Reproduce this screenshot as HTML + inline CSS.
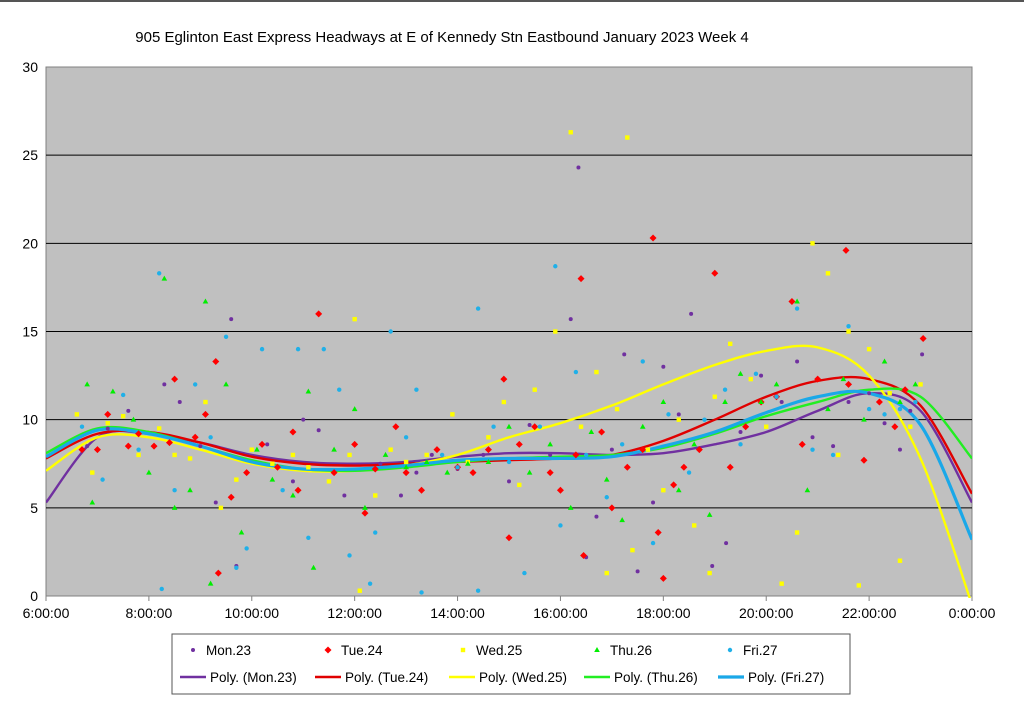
<!DOCTYPE html>
<html><head><meta charset="utf-8"><style>
html,body{margin:0;padding:0;background:#fff;}
svg{display:block;font-family:"Liberation Sans",Arial,sans-serif;}
</style></head><body>
<svg id="chart" width="1024" height="704" viewBox="0 0 1024 704" xmlns="http://www.w3.org/2000/svg">
<rect x="0" y="0" width="1024" height="704" fill="#fff"/>
<line x1="0" y1="1" x2="1024" y2="1" stroke="#555" stroke-width="2"/>
<text x="442" y="42" text-anchor="middle" font-size="15" fill="#000">905 Eglinton East Express Headways at E of Kennedy Stn Eastbound January 2023  Week 4</text>
<rect x="46" y="67" width="926" height="529" fill="#c0c0c0" stroke="#808080"/>
<g id="grid"></g>
<g id="axes"></g>
<g id="curves"></g>
<g id="points"></g>
<rect x="172" y="634" width="678" height="60" fill="#fff" stroke="#555"/>
<g id="legend"></g>
</svg>
<script>
const xTickLabels=["6:00:00","8:00:00","10:00:00","12:00:00","14:00:00","16:00:00","18:00:00","20:00:00","22:00:00","0:00:00"];
const yTicks=[0,5,10,15,20,25,30];
const seriesNames=["Mon.23","Tue.24","Wed.25","Thu.26","Fri.27"];
const curveHours=[6,7,8,9,10,11,12,13,14,15,16,17,18,19,20,21,22,23,24];
const curveMon=[5.3,9.0,9.2,8.7,8.0,7.6,7.5,7.6,7.9,8.1,8.1,8.0,8.1,8.6,9.3,10.5,11.5,10.5,5.3];
const curveTue=[7.8,9.2,9.3,8.7,7.9,7.5,7.4,7.5,7.6,7.7,7.8,8.0,8.8,10.0,11.3,12.2,12.3,10.8,5.8];
const curveWed=[7.1,9.0,9.0,8.3,7.5,7.1,7.1,7.4,8.0,9.0,9.8,10.8,12.0,13.1,13.9,14.1,12.5,7.8,-0.5];
const curveThu=[8.1,9.5,9.3,8.5,7.7,7.2,7.1,7.3,7.6,7.8,7.9,8.0,8.4,9.2,10.2,11.0,11.7,11.3,7.8];
const curveFri=[7.9,9.4,9.2,8.5,7.6,7.2,7.2,7.4,7.7,7.8,7.8,7.9,8.5,9.3,10.4,11.3,11.5,9.7,3.2];
const ptsMon=[[6.8,8.5],[7.2,9.5],[7.6,10.5],[8.3,12],[8.6,11],[9.0,8.5],[9.3,5.3],[9.6,5.6],[9.6,15.7],[9.7,1.7],[10.3,8.6],[10.8,6.5],[11.0,10],[11.3,9.4],[11.8,5.7],[12.5,7.5],[12.9,5.7],[13.2,7],[13.5,8],[14.0,7.2],[14.5,8],[15.0,6.5],[15.4,9.7],[15.8,8],[16.2,15.7],[16.35,24.3],[16.5,2.2],[16.7,4.5],[17.0,8.3],[17.24,13.7],[17.5,1.4],[17.8,5.3],[18.0,13],[18.3,10.3],[18.54,16],[18.95,1.7],[19.22,3],[19.5,9.3],[19.9,12.5],[20.3,11],[20.6,13.3],[20.9,9],[21.3,8.5],[21.6,11],[22.0,11.5],[22.3,9.8],[22.6,8.3],[22.8,10.5],[23.03,13.7],[23.05,14.6]];
const ptsTue=[[6.7,8.3],[7.0,8.3],[7.2,10.3],[7.6,8.5],[7.8,9.2],[8.1,8.5],[8.4,8.7],[8.5,12.3],[8.9,9],[9.1,10.3],[9.3,13.3],[9.35,1.3],[9.6,5.6],[9.9,7],[10.2,8.6],[10.5,7.3],[10.8,9.3],[10.9,6],[11.3,16],[11.6,7],[12.0,8.6],[12.2,4.7],[12.4,7.2],[12.8,9.6],[13.0,7],[13.3,6],[13.6,8.3],[14.0,7.3],[14.3,7],[14.6,8.3],[14.9,12.3],[15.0,3.3],[15.2,8.6],[15.5,9.6],[15.8,7],[16.0,6],[16.3,8],[16.4,18],[16.45,2.3],[16.8,9.3],[17.0,5],[17.3,7.3],[17.6,8.3],[17.8,20.3],[17.9,3.6],[18.0,1],[18.2,6.3],[18.4,7.3],[18.7,8.3],[19.0,18.3],[19.3,7.3],[19.6,9.6],[19.9,11],[20.2,11.3],[20.5,16.7],[20.7,8.6],[21.0,12.3],[21.55,19.6],[21.6,12],[21.9,7.7],[22.2,11],[22.5,9.6],[22.7,11.7],[23.05,14.6]];
const ptsWed=[[6.6,10.3],[6.9,7],[7.2,9.8],[7.5,10.2],[7.8,8],[8.2,9.5],[8.5,8],[8.8,7.8],[9.1,11],[9.4,5],[9.7,6.6],[10.0,8.3],[10.4,7.5],[10.8,8],[11.1,7.3],[11.5,6.5],[11.9,8],[12.0,15.7],[12.1,0.3],[12.4,5.7],[12.7,8.3],[13.0,7.6],[13.4,8],[13.9,10.3],[14.2,7.6],[14.6,9],[14.9,11],[15.2,6.3],[15.5,11.7],[15.9,15],[16.2,26.3],[16.4,9.6],[16.7,12.7],[16.9,1.3],[17.1,10.6],[17.3,26],[17.4,2.6],[17.7,8.3],[18.0,6],[18.3,10],[18.6,4],[18.9,1.3],[19.0,11.3],[19.3,14.3],[19.7,12.3],[20.0,9.6],[20.3,0.7],[20.6,3.6],[20.9,20],[21.2,18.3],[21.4,8],[21.6,15],[21.8,0.6],[22.0,14],[22.4,11.5],[22.6,2],[22.8,9.6],[23.0,12]];
const ptsThu=[[6.8,12],[6.9,5.3],[7.3,11.6],[7.7,10],[8.0,7],[8.3,18],[8.5,5],[8.8,6],[9.1,16.7],[9.2,0.7],[9.5,12],[9.8,3.6],[10.1,8.3],[10.4,6.6],[10.8,5.7],[11.1,11.6],[11.2,1.6],[11.6,8.3],[12.0,10.6],[12.2,5],[12.6,8],[13.0,7.3],[13.4,7.6],[13.8,7],[14.2,7.5],[14.6,7.6],[15.0,9.6],[15.4,7],[15.8,8.6],[16.2,5],[16.6,9.3],[16.9,6.6],[17.2,4.3],[17.6,9.6],[18.0,11],[18.3,6],[18.6,8.6],[18.9,4.6],[19.2,11],[19.5,12.6],[19.9,11],[20.2,12],[20.6,16.7],[20.8,6],[21.2,10.6],[21.5,12.3],[21.9,10],[22.3,13.3],[22.6,11],[22.9,12]];
const ptsFri=[[6.7,9.6],[7.1,6.6],[7.5,11.4],[7.8,8.3],[8.2,18.3],[8.25,0.4],[8.5,6],[8.9,12],[9.2,9],[9.5,14.7],[9.7,1.6],[9.9,2.7],[10.2,14],[10.6,6],[10.9,14],[11.1,3.3],[11.4,14],[11.7,11.7],[11.9,2.3],[12.3,0.7],[12.4,3.6],[12.7,15],[13.0,9],[13.2,11.7],[13.3,0.2],[13.7,8],[14.0,7.3],[14.4,16.3],[14.4,0.3],[14.7,9.6],[15.0,7.6],[15.3,1.3],[15.6,9.6],[15.9,18.7],[16.0,4],[16.3,12.7],[16.5,8],[16.9,5.6],[17.2,8.6],[17.6,13.3],[17.8,3],[18.1,10.3],[18.5,7],[18.8,10],[19.2,11.7],[19.5,8.6],[19.8,12.6],[20.2,11.3],[20.6,16.3],[20.9,8.3],[21.3,8],[21.6,15.3],[22.0,10.6],[22.3,10.3],[22.6,10.6],[22.9,11]];

const NS="http://www.w3.org/2000/svg";
const X0=46,X1=972,Y0=596,Y1=67;
function xs(h){return X0+(h-6)/18*(X1-X0);}
function ys(v){return Y0-v/30*(Y0-Y1);}
function mk(tag,attrs,parent){const e=document.createElementNS(NS,tag);for(const k in attrs)e.setAttribute(k,attrs[k]);parent.appendChild(e);return e;}
const grid=document.getElementById('grid'),axes=document.getElementById('axes'),curves=document.getElementById('curves'),points=document.getElementById('points'),legend=document.getElementById('legend');
yTicks.forEach(v=>{
  if(v>0&&v<30){const g=mk('line',{x1:X0,x2:X1,y1:ys(v),y2:ys(v),stroke:'#000','stroke-width':1},grid);
  
  }
  const t=mk('text',{x:38,y:ys(v)+5,'text-anchor':'end','font-size':14},axes);t.textContent=v;
  
  
});
xTickLabels.forEach((lab,i)=>{
  const x=xs(6+i*2);
  const tk=mk('line',{x1:x,x2:x,y1:Y0,y2:Y0+5,stroke:'#808080'},axes);
  
  
  const t=mk('text',{x:x,y:618,'text-anchor':'middle','font-size':14},axes);t.textContent=lab;
  
  
});
const colors={pt:['#7030a0','#ff0000','#ffff00','#00ee00','#20b0e8'],ln:['#7030a0','#e00000','#ffff00','#22ee22','#1aa8e8']};
const curveData=[curveMon,curveTue,curveWed,curveThu,curveFri];
const ptData=[ptsMon,ptsTue,ptsWed,ptsThu,ptsFri];
function smooth(vals){
  const P=curveHours.map((h,i)=>[xs(h),ys(vals[i])]);
  let d='M'+P[0][0]+','+P[0][1];
  for(let i=0;i<P.length-1;i++){
    const p0=P[Math.max(0,i-1)],p1=P[i],p2=P[i+1],p3=P[Math.min(P.length-1,i+2)];
    const c1=[p1[0]+(p2[0]-p0[0])/6,p1[1]+(p2[1]-p0[1])/6],c2=[p2[0]-(p3[0]-p1[0])/6,p2[1]-(p3[1]-p1[1])/6];
    d+=` C${c1[0]},${c1[1]} ${c2[0]},${c2[1]} ${p2[0]},${p2[1]}`;
  }
  return d;
}
function marker(k,x,y,parent){
  const c=colors.pt[k];let e;
  if(k===0)e=mk('circle',{cx:x,cy:y,r:2,fill:c},parent);
  else if(k===1)e=mk('path',{d:`M${x},${y-3.5}L${x+3.5},${y}L${x},${y+3.5}L${x-3.5},${y}Z`,fill:c},parent);
  else if(k===2)e=mk('rect',{x:x-2.2,y:y-2.2,width:4.4,height:4.4,fill:c},parent);
  else if(k===3)e=mk('path',{d:`M${x},${y-3}L${x+2.8},${y+2}L${x-2.8},${y+2}Z`,fill:c},parent);
  else e=mk('circle',{cx:x,cy:y,r:2.2,fill:c},parent);
  return e;
}
const defs=mk('defs',{},document.getElementById('chart'));
const cp=mk('clipPath',{id:'clip'},defs);mk('rect',{x:X0,y:Y1,width:X1-X0,height:Y0-Y1+2},cp);
curves.setAttribute('clip-path','url(#clip)');
ptData.forEach((arr,k)=>{arr.forEach(p=>{
  const m=marker(k,xs(p[0]),ys(p[1]),points);
  
  
});});
curveData.forEach((vals,k)=>{
  const p=mk('path',{d:smooth(vals),fill:'none',stroke:colors.ln[k],'stroke-width':k===4?3.2:2.4},curves);
  
  
});
const legX=[190,325,460,594,727];
seriesNames.forEach((n,k)=>{
  const m=marker(k,legX[k]+3,650,legend);
  
  
  const t=mk('text',{x:legX[k]+16,y:655,'font-size':13.5},legend);t.textContent=n;
  
  
  const lx=[180,315,449,584,718][k];
  const l=mk('line',{x1:lx,x2:lx+26,y1:677,y2:677,stroke:colors.ln[k],'stroke-width':k===4?3.2:2.6},legend);
  
  
  const t2=mk('text',{x:lx+30,y:682,'font-size':13.5},legend);t2.textContent='Poly. ('+n+')';
  
  
});
</script>
</body></html>
